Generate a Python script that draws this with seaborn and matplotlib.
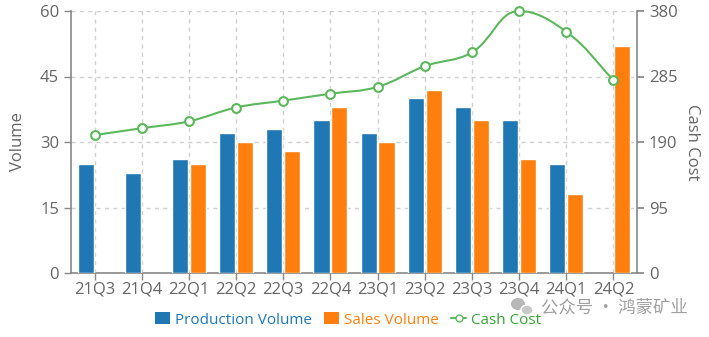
import numpy as np
import pandas as pd
import matplotlib
matplotlib.use("Agg")
import matplotlib.pyplot as plt
import seaborn as sns
from matplotlib.path import Path
from matplotlib.patches import PathPatch, Patch, Ellipse
from matplotlib.lines import Line2D

quarters = ["21Q3", "21Q4", "22Q1", "22Q2", "22Q3", "22Q4", "23Q1", "23Q2", "23Q3", "23Q4", "24Q1", "24Q2"]
production = [25, 23, 26, 32, 33, 35, 32, 40, 38, 35, 25, np.nan]
sales = [np.nan, np.nan, 25, 30, 28, 38, 30, 42, 35, 26, 18, 52]
cash_cost = [200, 210, 220, 240, 250, 260, 270, 300, 320, 380, 350, 280]

BLUE = "#1f77b4"
ORANGE = "#ff7f0e"
GREEN = "#5cb85c"
GRAY = "#666666"

sns.set_theme(style="white")
plt.rcParams["font.family"] = ["Open Sans", "Noto Sans CJK SC", "DejaVu Sans"]

df = pd.DataFrame({"Quarter": quarters, "Production Volume": production, "Sales Volume": sales})
long = df.melt(id_vars="Quarter", var_name="Series", value_name="Value").dropna()

fig = plt.figure(figsize=(7.09, 3.37), dpi=100)
ax = fig.add_axes([71 / 709, 1 - 273 / 337, (637 - 71) / 709, (273 - 11) / 337])

sns.barplot(data=long, x="Quarter", y="Value", hue="Series", order=quarters,
            hue_order=["Production Volume", "Sales Volume"],
            palette=[BLUE, ORANGE], width=0.76, gap=0.1, errorbar=None,
            saturation=1, ax=ax, legend=False, zorder=3)

ax.set_xlim(-0.5, 11.5)
ax.set_ylim(0, 60)
ax.set_yticks([0, 15, 30, 45, 60])
ax.set_xlabel("")
ax.set_ylabel("Volume", color=GRAY, fontsize=12, labelpad=10)
ax.grid(True, color="#d0d0d0", linestyle=(0, (3, 3)), linewidth=1, zorder=0)
ax.set_axisbelow(True)
for s in ["top", "right"]:
    ax.spines[s].set_visible(False)
for s in ["left", "bottom"]:
    ax.spines[s].set_color("#888888")
    ax.spines[s].set_linewidth(1.2)
ax.tick_params(axis="both", colors=GRAY, labelsize=12, length=5, width=1, direction="out",
               bottom=True, left=True)
ax.tick_params(axis="x", pad=1)
for t in ax.get_xticklabels() + ax.get_yticklabels():
    t.set_color(GRAY)
ax.tick_params(axis="both", which="both", color="#888888")

ax2 = ax.twinx()
ax2.set_ylim(0, 380)
ax2.set_yticks([0, 95, 190, 285, 380])
for s in ["top", "left", "bottom"]:
    ax2.spines[s].set_visible(False)
ax2.spines["right"].set_color("#888888")
ax2.spines["right"].set_linewidth(1.2)
ax2.tick_params(axis="y", labelsize=12, length=5, color="#888888", labelcolor=GRAY, right=True)
ax2.set_ylabel("Cash Cost", color=GRAY, fontsize=12, rotation=-90, labelpad=16)
ax2.grid(False)

# smooth curve (ECharts-like bezier) through the cash cost points
xs = np.arange(len(quarters), dtype=float)
ys = np.array(cash_cost, dtype=float)
sx, sy = 47.0, 262.0 / 380.0
px, py = xs * sx, ys * sy
smooth = 0.4
cps = []
n = len(px)
for i in range(n):
    prv = max(i - 1, 0)
    nxt = min(i + 1, n - 1)
    vx, vy = px[nxt] - px[prv], py[nxt] - py[prv]
    if 0 < i < n - 1 and (py[i] - py[prv]) * (py[nxt] - py[i]) <= 0:
        vy = 0.0
    d0 = np.hypot(px[i] - px[prv], py[i] - py[prv])
    d1 = np.hypot(px[nxt] - px[i], py[nxt] - py[i])
    tot = d0 + d1 if d0 + d1 > 0 else 1
    c0 = (px[i] - vx * smooth * d0 / tot, py[i] - vy * smooth * d0 / tot)
    c1 = (px[i] + vx * smooth * d1 / tot, py[i] + vy * smooth * d1 / tot)
    cps.append((c0, c1))
verts = [(xs[0], ys[0])]
codes = [Path.MOVETO]
for i in range(n - 1):
    a = cps[i][1]
    b = cps[i + 1][0]
    verts += [(a[0] / sx, a[1] / sy), (b[0] / sx, b[1] / sy), (xs[i + 1], ys[i + 1])]
    codes += [Path.CURVE4] * 3
ax2.add_patch(PathPatch(Path(verts, codes), facecolor="none", edgecolor=GREEN, linewidth=1.5,
                        zorder=4, clip_on=False))
sns.scatterplot(x=xs, y=ys, ax=ax2, marker="o", s=40, facecolor="white",
                edgecolor=GREEN, linewidth=1.5, zorder=5, legend=False, clip_on=False)

handles = [Patch(facecolor=BLUE, edgecolor="none"),
           Patch(facecolor=ORANGE, edgecolor="none"),
           Line2D([0], [0], color=GREEN, lw=1.5, marker="o", markersize=5,
                  markerfacecolor="white", markeredgecolor=GREEN)]
leg = fig.legend(handles, ["Production Volume", "Sales Volume", "Cash Cost"],
                 loc="center", bbox_to_anchor=(348 / 709, 1 - 320 / 337), ncol=3,
                 frameon=False, fontsize=11, handlelength=1.0, handleheight=0.8,
                 handletextpad=0.3, columnspacing=0.8)
for t, c in zip(leg.get_texts(), [BLUE, ORANGE, "#3aa33a"]):
    t.set_color(c)

# watermark with a simple chat-bubble icon
fig.add_artist(Ellipse((518 / 709, 1 - 304 / 337), 14 / 709, 12 / 337, transform=fig.transFigure,
                       facecolor="#b8b8b8", edgecolor="none"))
fig.add_artist(Ellipse((527 / 709, 1 - 310 / 337), 12 / 709, 10 / 337, transform=fig.transFigure,
                       facecolor="#c8c8c8", edgecolor="white", linewidth=1))
fig.text(614 / 709, 1 - 307 / 337, "公众号 · 鸿蒙矿业", ha="center", va="center",
         fontsize=12.5, color="#a0a0a0", family=["Noto Sans CJK SC", "DejaVu Sans"])

fig.savefig("out.png", dpi=100)
